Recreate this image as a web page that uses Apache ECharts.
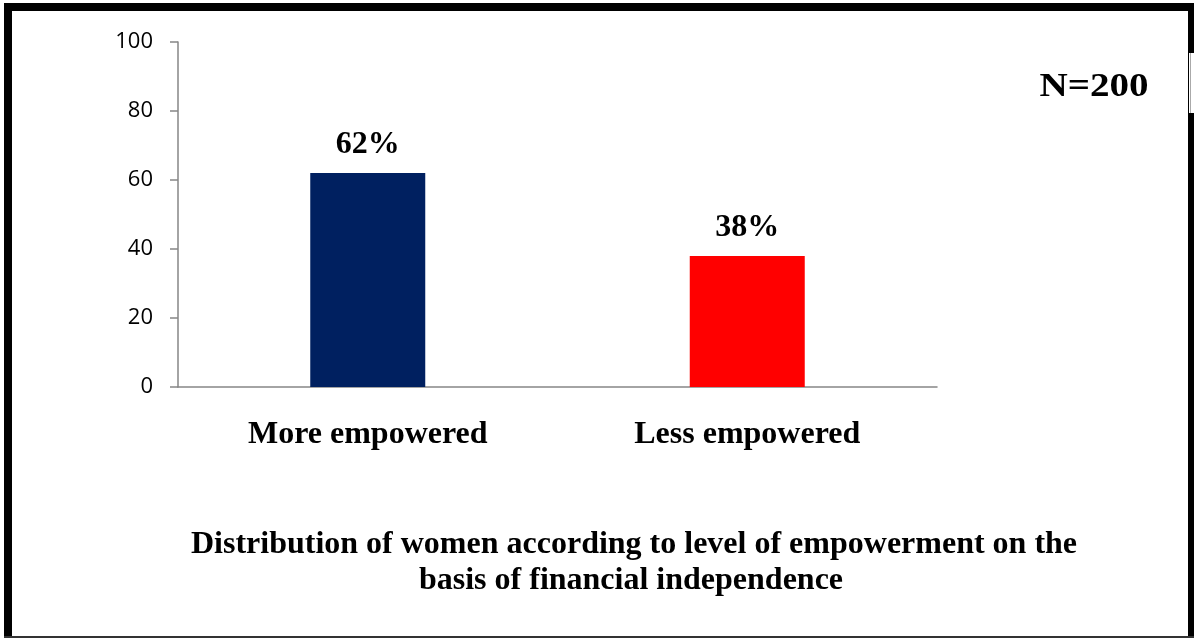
<!DOCTYPE html>
<html>
<head>
<meta charset="utf-8">
<script src="https://cdn.jsdelivr.net/npm/echarts@6/dist/echarts.min.js"></script>
<style>
html,body{margin:0;padding:0;background:#fff;}
#c{width:1194px;height:638px;}
</style>
</head>
<body>
<div id="c"></div>
<script>
const categories = ['More empowered', 'Less empowered'];
const values = [62, 38];
const valueLabels = ['62%', '38%'];
const barColors = ['#002060', '#FF0000'];
const yTicks = [0, 20, 40, 60, 80, 100];
const titleLines = ['Distribution of women according to level of empowerment on the', 'basis of financial independence'];
const sampleNote = 'N=200';

const chart = echarts.init(document.getElementById('c'), null, {renderer: 'canvas'});
const serif = '"Liberation Serif", "Times New Roman", serif';
chart.setOption({
  animation: false,
  backgroundColor: '#ffffff',
  grid: {left: 178, right: 257, top: 42, bottom: 251, containLabel: false},
  xAxis: {
    type: 'category',
    data: categories,
    axisLine: {show: true, lineStyle: {color: '#868686', width: 1.5}},
    axisTick: {show: false},
    axisLabel: {fontFamily: serif, fontWeight: 'bold', fontSize: 32, color: '#000', margin: 32}
  },
  yAxis: {
    type: 'value',
    min: yTicks[0],
    max: yTicks[yTicks.length - 1],
    interval: yTicks[1] - yTicks[0],
    axisLine: {show: true, lineStyle: {color: '#868686', width: 1.5}},
    axisTick: {show: true, length: 8, lineStyle: {color: '#868686', width: 1.5}},
    splitLine: {show: false},
    axisLabel: {fontFamily: '"Open Sans", "Noto Sans", sans-serif', fontSize: 22, color: '#000', margin: 25}
  },
  series: [{
    type: 'bar',
    barWidth: 115,
    data: values.map((v, i) => ({value: v, itemStyle: {color: barColors[i]}})),
    label: {
      show: true,
      position: 'top',
      distance: 12,
      fontFamily: serif,
      fontWeight: 'bold',
      fontSize: 32,
      color: '#000',
      formatter: p => valueLabels[p.dataIndex]
    }
  }],
  graphic: [
    {type: 'rect', shape: {x: 4, y: 3, width: 8, height: 635}, style: {fill: '#000'}, silent: true},
    {type: 'rect', shape: {x: 4, y: 3, width: 1190, height: 8}, style: {fill: '#000'}, silent: true},
    {type: 'rect', shape: {x: 1188, y: 3, width: 6, height: 635}, style: {fill: '#000'}, silent: true},
    {type: 'rect', shape: {x: 1189, y: 53, width: 5, height: 60}, style: {fill: '#fff'}, silent: true},
    {type: 'rect', shape: {x: 1190, y: 53, width: 1, height: 60}, style: {fill: '#aaaaaa'}, silent: true},
    {type: 'rect', shape: {x: 4, y: 636, width: 1190, height: 2}, style: {fill: '#333333'}, silent: true},
    {type: 'text', x: 1094, y: 87, scaleX: 1.15, style: {text: sampleNote, font: 'bold 34px ' + serif, fill: '#000', align: 'center', verticalAlign: 'middle'}, silent: true},
    {type: 'text', x: 634, y: 545, style: {text: titleLines[0], font: 'bold 32px ' + serif, fill: '#000', align: 'center', verticalAlign: 'middle'}, silent: true},
    {type: 'text', x: 631, y: 581, style: {text: titleLines[1], font: 'bold 32px ' + serif, fill: '#000', align: 'center', verticalAlign: 'middle'}, silent: true}
  ]
});
</script>
</body>
</html>
